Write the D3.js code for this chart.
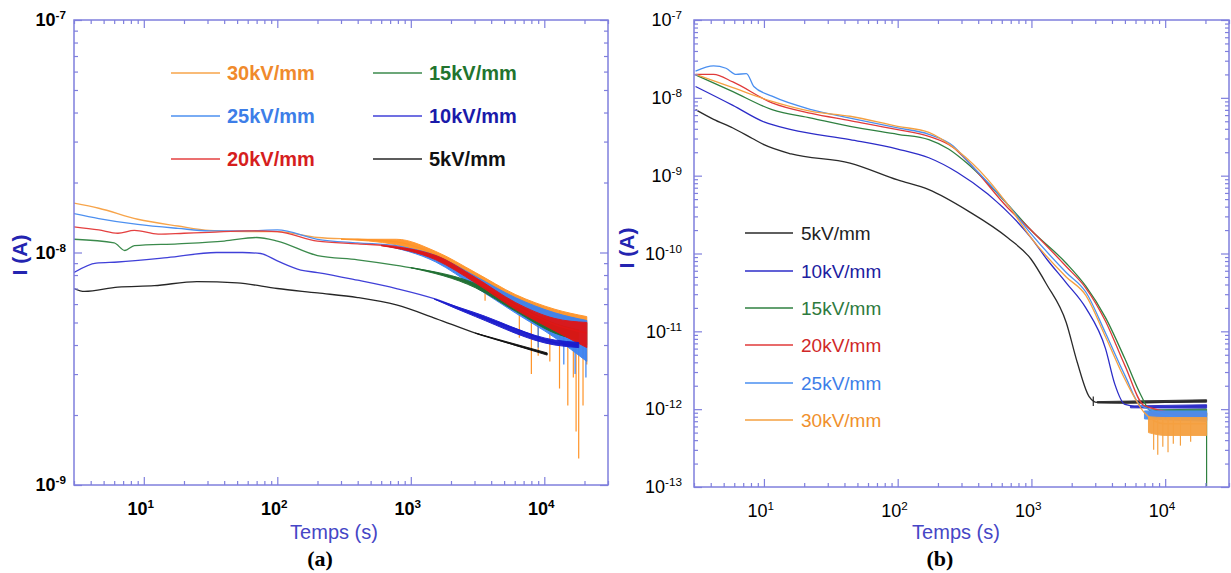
<!DOCTYPE html>
<html><head><meta charset="utf-8">
<script src="https://cdn.jsdelivr.net/npm/d3@7"></script>
<style>body{margin:0;background:#fff} svg{display:block;font-family:"Liberation Sans",Arial,sans-serif}</style>
</head><body><svg id="c" width="1231" height="573"></svg>
<script>
// ---------- DATA ----------
const seriesKeys = ["5","10","15","20","25","30"];
const seriesLabels = ["5kV/mm","10kV/mm","15kV/mm","20kV/mm","25kV/mm","30kV/mm"];
const xTickExps = [1,2,3,4];
const yTickExpsA = [-7,-8,-9];
const yTickExpsB = [-7,-8,-9,-10,-11,-12,-13];
const xDomain = [3, 30000];
const yDomainA = [1e-9, 1e-7];
const yDomainB = [1e-13, 1e-7];

// Panel (a): [time s, current A]
const a5  = [[3,7.0e-9],[3.6,6.8e-9],[6.4,7.1e-9],[12,7.2e-9],[25,7.5e-9],[50,7.4e-9],[100,7.0e-9],[200,6.7e-9],[400,6.4e-9],[780,5.95e-9],[1540,5.2e-9],[3050,4.5e-9],[6060,4.0e-9],[10500,3.66e-9]];
const a10 = [[3,8.2e-9],[4.4,9.0e-9],[6.4,9.1e-9],[15,9.5e-9],[35,1.0e-8],[55,1.0e-8],[75,9.9e-9],[100,9.2e-9],[150,8.4e-9],[200,8.2e-9],[400,7.6e-9],[780,7.0e-9],[1540,6.3e-9],[3050,5.4e-9],[6060,4.7e-9],[12000,4.1e-9],[18100,4.0e-9]];
const a15 = [[3,1.14e-8],[6,1.10e-8],[7.2,1.02e-8],[8.5,1.07e-8],[18,1.09e-8],[40,1.12e-8],[70,1.16e-8],[100,1.12e-8],[200,9.7e-9],[400,9.3e-9],[780,8.8e-9],[1540,8.2e-9],[3050,7.2e-9],[6060,5.8e-9],[12000,4.7e-9],[18100,4.4e-9]];
const a20 = [[3,1.29e-8],[4.6,1.25e-8],[6.4,1.21e-8],[8.5,1.245e-8],[12.8,1.20e-8],[20,1.21e-8],[31,1.22e-8],[60,1.24e-8],[100,1.23e-8],[200,1.12e-8],[400,1.09e-8],[780,1.06e-8],[1540,9.5e-9],[3050,7.6e-9],[6060,5.9e-9],[12000,4.9e-9],[20800,4.5e-9]];
const a25 = [[3,1.47e-8],[4.6,1.40e-8],[9,1.32e-8],[18,1.27e-8],[31,1.24e-8],[60,1.24e-8],[100,1.25e-8],[200,1.14e-8],[400,1.10e-8],[780,1.07e-8],[1540,9.4e-9],[3050,7.5e-9],[6060,6.0e-9],[12000,5.0e-9],[20800,4.6e-9]];
const a30 = [[3,1.63e-8],[4.6,1.55e-8],[9,1.39e-8],[18,1.30e-8],[31,1.245e-8],[60,1.23e-8],[100,1.23e-8],[200,1.16e-8],[400,1.14e-8],[780,1.11e-8],[1540,9.8e-9],[3050,7.9e-9],[6060,6.3e-9],[12000,5.4e-9],[20800,5.0e-9]];
// noisy envelopes [t, low, high]
const a5Band  = [[3050,4.5e-9,4.5e-9],[10500,3.62e-9,3.7e-9]];
const a10Band = [[1500,6.3e-9,6.3e-9],[3050,5.3e-9,5.5e-9],[12000,4.0e-9,4.2e-9],[18100,3.9e-9,4.1e-9]];
const a15Band = [[1000,8.6e-9,8.6e-9],[3050,7.05e-9,7.35e-9],[6060,5.6e-9,6.0e-9],[12000,4.5e-9,4.95e-9],[18100,4.2e-9,4.65e-9]];
const a20Band = [[600,1.07e-8,1.07e-8],[1540,9.3e-9,9.7e-9],[3050,7.4e-9,7.8e-9],[6060,5.7e-9,6.1e-9],[12000,4.6e-9,5.2e-9],[20800,3.9e-9,5.0e-9]];
const a25Band = [[600,1.08e-8,1.08e-8],[1540,9.1e-9,9.7e-9],[3050,7.1e-9,7.9e-9],[6060,5.5e-9,6.4e-9],[12000,4.3e-9,5.5e-9],[20800,3.4e-9,5.1e-9]];
const a30Band = [[300,1.14e-8,1.14e-8],[780,1.08e-8,1.14e-8],[1540,9.4e-9,1.01e-8],[3050,7.4e-9,8.2e-9],[6060,5.7e-9,6.6e-9],[12000,4.6e-9,5.7e-9],[20800,4.0e-9,5.3e-9]];
const a25Spikes = [[9000,3.9e-9,5.5e-9],[14000,3.3e-9,5.2e-9],[17000,3.0e-9,5.0e-9],[20500,2.9e-9,4.8e-9]];
const a30Spikes = [[3600,6.2e-9,7.6e-9],[6500,4.3e-9,6.3e-9],[8000,3.0e-9,6.0e-9],[9000,3.6e-9,5.8e-9],[11000,3.4e-9,5.6e-9],[13000,2.6e-9,5.6e-9],[15000,2.2e-9,5.4e-9],[16500,2.9e-9,5.3e-9],[17300,1.7e-9,5.2e-9],[18100,1.3e-9,5.2e-9],[19500,2.2e-9,5.1e-9],[20800,3.3e-9,5.0e-9]];

// Panel (b)
const b5  = [[3.08,7.06e-9],[4.2,5.3e-9],[5.86,4.1e-9],[8.2,3.0e-9],[10,2.5e-9],[16,1.9e-9],[44,1.45e-9],[100,8.8e-10],[171,6.6e-10],[337,3.5e-10],[662,1.6e-10],[991,8.5e-11],[1300,4.0e-11],[1820,1.3e-11],[2200,4.0e-12],[2700,1.45e-12],[3100,1.22e-12],[5000,1.2e-12],[10000,1.22e-12],[20400,1.28e-12]];
const b10 = [[3.08,1.4e-8],[5.86,8.0e-9],[10,4.9e-9],[16,3.9e-9],[44,2.9e-9],[100,2.2e-9],[171,1.7e-9],[280,1.1e-9],[472,5.8e-10],[991,1.6e-10],[1300,8.5e-11],[1820,4.2e-11],[2550,2.0e-11],[3580,6.0e-12],[4200,2.1e-12],[5000,1.15e-12],[7000,1.05e-12],[20400,1.1e-12]];
const b15 = [[3.08,1.97e-8],[5.86,1.2e-8],[11.5,7.06e-9],[22.6,5.5e-9],[44,4.3e-9],[100,3.4e-9],[171,2.9e-9],[240,2.2e-9],[337,1.4e-9],[662,4.3e-10],[991,2.0e-10],[1820,7.5e-11],[2550,3.8e-11],[3580,1.5e-11],[5010,4.4e-12],[6600,1.5e-12],[7800,9.5e-13],[20400,9.0e-13]];
const b20 = [[3.08,2.0e-8],[4.2,2.0e-8],[5.86,1.6e-8],[11.5,8.6e-9],[22.6,6.3e-9],[44,5.1e-9],[100,3.9e-9],[171,3.2e-9],[260,2.3e-9],[337,1.5e-9],[662,3.9e-10],[991,2.0e-10],[1820,6.8e-11],[2550,3.6e-11],[3580,1.35e-11],[5010,3.6e-12],[7000,1.1e-12],[20400,8.0e-13]];
const b25 = [[3.08,2.2e-8],[4.2,2.58e-8],[5.2,2.4e-8],[6.2,2.0e-8],[7.4,2.05e-8],[8.4,1.4e-8],[11.5,1.05e-8],[22.6,7.06e-9],[44,5.5e-9],[100,4.1e-9],[171,3.4e-9],[260,2.4e-9],[337,1.5e-9],[662,4.3e-10],[991,1.8e-10],[1820,5.7e-11],[2550,3.2e-11],[3580,9.5e-12],[5010,2.7e-12],[6600,1.1e-12],[20400,7.0e-13]];
const b30 = [[3.08,2.0e-8],[5.86,1.35e-8],[11.5,9.0e-9],[22.6,6.7e-9],[44,5.8e-9],[100,4.3e-9],[171,3.6e-9],[280,2.1e-9],[472,8.9e-10],[662,4.3e-10],[991,1.6e-10],[1820,5.0e-11],[2550,2.9e-11],[3580,8.5e-12],[5010,2.4e-12],[7000,9.0e-13],[9850,6.5e-13],[20400,6.5e-13]];
const b5Band  = [[3100,1.2e-12,1.25e-12],[20400,1.23e-12,1.32e-12]];
const b10Band = [[5500,1.04e-12,1.1e-12],[20400,1.03e-12,1.14e-12]];
const b15Band = [[7800,8.5e-13,9.8e-13],[20400,8.2e-13,1.0e-12]];
const b20Band = [[7500,7.4e-13,9.0e-13],[20400,7.2e-13,9.0e-13]];
const b25Band = [[7000,7.5e-13,9.5e-13],[20400,7.0e-13,9.5e-13]];
const b30Band = [[7500,5.0e-13,8.0e-13],[10000,4.6e-13,7.8e-13],[20400,4.6e-13,7.8e-13]];
const b5Spikes  = [[2900,1.1e-12,1.45e-12]];
const b15Spikes = [[20400,1.03e-13,9.0e-13]];
const b30Spikes = [[8200,3.0e-13,7.5e-13],[8800,2.6e-13,7.5e-13],[9600,3.3e-13,7.5e-13],[10500,2.8e-13,7.5e-13],[11500,3.6e-13,7.5e-13],[13000,3.4e-13,7.5e-13],[15500,3.8e-13,7.5e-13]];

// ---------- STYLE ----------
const frameColor = "#7f7fdd";
const lineColorsA = {"5":"#262626","10":"#4040d8","15":"#3b8a4c","20":"#e44040","25":"#4d90f0","30":"#f7a44a"};
const bandColorsA = {"5":"#111","10":"#1818cc","15":"#1e6e30","20":"#e01414","25":"#3b82f2","30":"#ff9326"};
const textColorsA = {"5":"#111","10":"#1a1aaa","15":"#22742e","20":"#d61e1e","25":"#3d7ee8","30":"#f08a2c"};
const lineColorsB = {"5":"#2a2a2a","10":"#2c2cc8","15":"#2f8040","20":"#e03a3a","25":"#4a8ff0","30":"#f5a040"};
const textColorsB = {"5":"#222","10":"#2020a0","15":"#2e7a3e","20":"#d02828","25":"#3d7ee8","30":"#f0902c"};

const svg = d3.select("#c");

function minorTicks(domain){
  const out=[];
  const lo=Math.floor(Math.log10(domain[0])), hi=Math.ceil(Math.log10(domain[1]));
  for(let e=lo;e<hi;e++) for(let m=2;m<=9;m++){const v=m*Math.pow(10,e); if(v>=domain[0]*0.999&&v<=domain[1]*1.001) out.push(v);}
  return out;
}
function supLabels(sel){
  sel.selectAll(".tick text").each(function(d){
    const t=d3.select(this); const e=Math.round(Math.log10(d));
    t.text(null);
    t.append("tspan").text("10");
    t.append("tspan").attr("dy","-0.6em").attr("font-size","0.65em").text(String(e));
  });
}

function panel(cfg){
  const g = svg.append("g");
  const x = d3.scaleLog().domain(xDomain).range([cfg.x0,cfg.x1]);
  const y = d3.scaleLog().domain(cfg.yDomain).range([cfg.y1,cfg.y0]);
  const clipId = "clip"+cfg.id;
  svg.append("clipPath").attr("id",clipId).append("rect")
    .attr("x",cfg.x0).attr("y",cfg.y0).attr("width",cfg.x1-cfg.x0).attr("height",cfg.y1-cfg.y0);
  const plot = g.append("g").attr("clip-path",`url(#${clipId})`);
  const line = d3.line().x(d=>x(d[0])).y(d=>y(d[1])).curve(d3.curveMonotoneX);
  const area = d3.area().x(d=>x(d[0])).y0(d=>y(d[1])).y1(d=>y(d[2])).curve(d3.curveMonotoneX);
  cfg.order.forEach(k=>{
    const s = cfg.series[k];
    if (s.spikes) plot.selectAll(null).data(s.spikes).join("line")
      .attr("x1",d=>x(d[0])).attr("x2",d=>x(d[0])).attr("y1",d=>y(d[1])).attr("y2",d=>y(d[2]))
      .attr("stroke",cfg.bandColors[k]).attr("stroke-width",1.2);
    plot.append("path").attr("d",line(s.data)).attr("fill","none").attr("stroke",cfg.lineColors[k]).attr("stroke-width",cfg.lw);
    if (s.band) plot.append("path").attr("d",area(s.band)).attr("fill",cfg.bandColors[k]).attr("stroke",cfg.bandColors[k]).attr("stroke-width",1).attr("opacity",0.95);
  });
  g.append("rect").attr("x",cfg.x0).attr("y",cfg.y0).attr("width",cfg.x1-cfg.x0).attr("height",cfg.y1-cfg.y0)
    .attr("fill","none").attr("stroke",frameColor).attr("stroke-width",1.5);
  const xMaj = xTickExps.map(e=>Math.pow(10,e));
  const yMaj = cfg.yExps.map(e=>Math.pow(10,e));
  const xMin = minorTicks(xDomain).filter(v=>!xMaj.includes(v));
  const yMin = minorTicks(cfg.yDomain);
  const axes = [
    [d3.axisBottom(x).tickValues(xMaj).tickSizeInner(-8).tickSizeOuter(0).tickPadding(17), `translate(0,${cfg.y1})`, true, "x"],
    [d3.axisBottom(x).tickValues(xMin).tickSizeInner(-4).tickSizeOuter(0).tickFormat(""), `translate(0,${cfg.y1})`, false],
    [d3.axisTop(x).tickValues(xMaj).tickSizeInner(-8).tickSizeOuter(0).tickFormat(""), `translate(0,${cfg.y0})`, false],
    [d3.axisTop(x).tickValues(xMin).tickSizeInner(-4).tickSizeOuter(0).tickFormat(""), `translate(0,${cfg.y0})`, false],
    [d3.axisLeft(y).tickValues(yMaj).tickSizeInner(-8).tickSizeOuter(0).tickPadding(cfg.yPad), `translate(${cfg.x0},0)`, true, "y"],
    [d3.axisLeft(y).tickValues(yMin).tickSizeInner(-4).tickSizeOuter(0).tickFormat(""), `translate(${cfg.x0},0)`, false],
    [d3.axisRight(y).tickValues(yMaj).tickSizeInner(-8).tickSizeOuter(0).tickFormat(""), `translate(${cfg.x1},0)`, false],
    [d3.axisRight(y).tickValues(yMin).tickSizeInner(-4).tickSizeOuter(0).tickFormat(""), `translate(${cfg.x1},0)`, false]
  ];
  axes.forEach(([ax,tr,lab,kind])=>{
    const a = g.append("g").attr("transform",tr).call(ax);
    a.select(".domain").remove();
    a.selectAll(".tick line").attr("stroke",frameColor).attr("stroke-width",1.2);
    if (lab){
      a.selectAll(".tick text").attr("fill","#000").attr("font-size",cfg.tickFont)
        .attr("font-weight",cfg.tickWeight).attr("font-family","'Liberation Sans',Arial,sans-serif");
      supLabels(a);
      if (kind==="x") a.selectAll(".tick text").attr("dx","-0.2em");
    }
  });
  g.append("text").attr("transform",`translate(${cfg.ylabX},${cfg.ylabY}) rotate(-90)`)
    .attr("text-anchor","middle").attr("dy","0.35em").attr("font-size",21).attr("font-weight","bold")
    .attr("fill","#2424b0").text("I (A)");
  g.append("text").attr("x",cfg.xlabX).attr("y",539).attr("text-anchor","middle")
    .attr("font-size",20).attr("fill","#4646c6").text("Temps (s)");
  g.append("text").attr("x",cfg.capX).attr("y",566).attr("text-anchor","middle")
    .attr("font-size",22).attr("font-weight","bold").attr("font-family","'Liberation Serif','Times New Roman',serif")
    .attr("fill","#000").text(cfg.caption);
  const leg = g.append("g");
  cfg.legend.forEach(it=>{
    const i = seriesKeys.indexOf(it.k);
    leg.append("line").attr("x1",it.lx).attr("x2",it.lx+cfg.legLen).attr("y1",it.y).attr("y2",it.y)
      .attr("stroke",cfg.lineColors[it.k]).attr("stroke-width",1.5);
    leg.append("text").attr("x",it.lx+cfg.legLen+cfg.legGap).attr("y",it.y).attr("dy","0.35em")
      .attr("font-size",cfg.legFont).attr("font-weight",cfg.legWeight).attr("fill",cfg.textColors[it.k]).text(seriesLabels[i]);
  });
}

panel({
  id:"A", x0:74, x1:608, y0:20, y1:485, yDomain:yDomainA, yExps:yTickExpsA, yPad:8,
  tickFont:18, tickWeight:"bold", lw:1.3,
  series:{"5":{data:a5,band:a5Band},"10":{data:a10,band:a10Band},"15":{data:a15,band:a15Band},
          "20":{data:a20,band:a20Band},"25":{data:a25,band:a25Band,spikes:a25Spikes},"30":{data:a30,band:a30Band,spikes:a30Spikes}},
  order:["30","25","15","20","10","5"], lineColors:lineColorsA, bandColors:bandColorsA, textColors:textColorsA,
  ylabX:20, ylabY:255, xlabX:334, capX:320, caption:"(a)",
  legLen:49, legGap:7, legFont:20, legWeight:"bold",
  legend:[{k:"30",lx:171,y:73},{k:"25",lx:171,y:116},{k:"20",lx:171,y:159},
          {k:"15",lx:373,y:73},{k:"10",lx:373,y:116},{k:"5",lx:373,y:159}]
});
panel({
  id:"B", x0:694, x1:1229, y0:20, y1:487, yDomain:yDomainB, yExps:yTickExpsB, yPad:12,
  tickFont:18, tickWeight:"normal", lw:1.3,
  series:{"5":{data:b5,band:b5Band,spikes:b5Spikes},"10":{data:b10,band:b10Band},"15":{data:b15,band:b15Band,spikes:b15Spikes},
          "20":{data:b20,band:b20Band},"25":{data:b25,band:b25Band},"30":{data:b30,band:b30Band,spikes:b30Spikes}},
  order:["5","10","15","20","25","30"], lineColors:lineColorsB, bandColors:lineColorsB, textColors:textColorsB,
  ylabX:627, ylabY:248, xlabX:956, capX:940, caption:"(b)",
  legLen:48, legGap:8, legFont:19, legWeight:"normal",
  legend:[{k:"5",lx:745,y:233},{k:"10",lx:745,y:271},{k:"15",lx:745,y:308},
          {k:"20",lx:745,y:345},{k:"25",lx:745,y:383},{k:"30",lx:745,y:420}]
});
</script></body></html>
